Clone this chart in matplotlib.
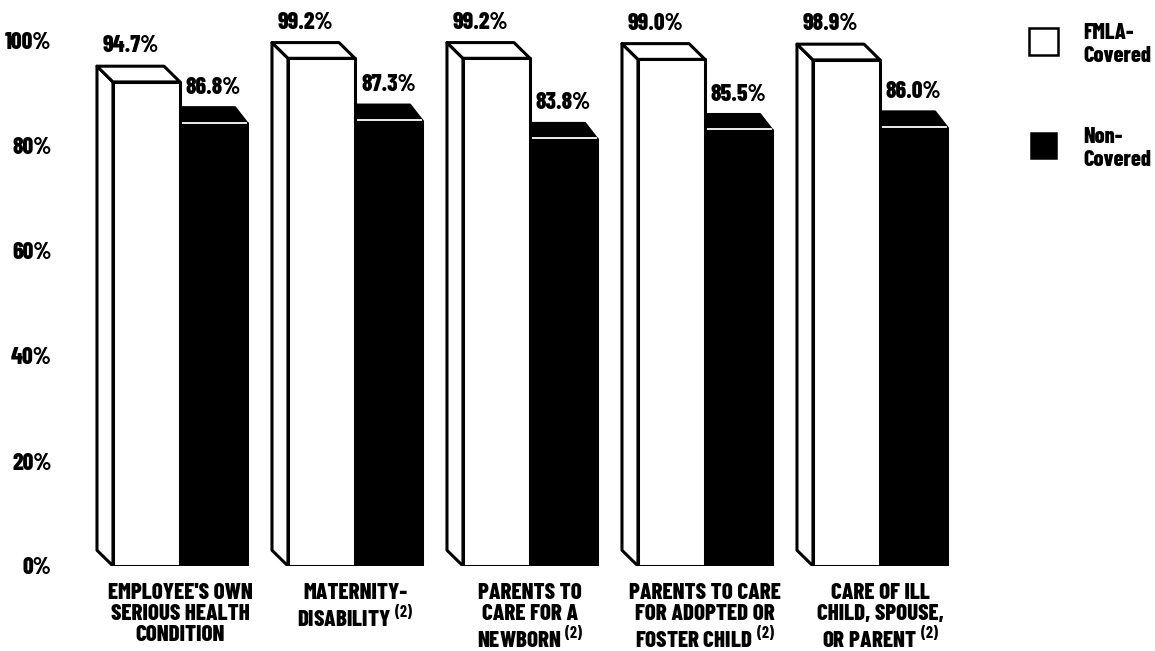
import matplotlib.pyplot as plt
from matplotlib import font_manager
from matplotlib.patches import Polygon, Rectangle

categories = ["EMPLOYEE'S OWN\nSERIOUS HEALTH\nCONDITION",
              "MATERNITY-\nDISABILITY $^{(2)}$",
              "PARENTS TO\nCARE FOR A\nNEWBORN $^{(2)}$",
              "PARENTS TO CARE\nFOR ADOPTED OR\nFOSTER CHILD $^{(2)}$",
              "CARE OF ILL\nCHILD, SPOUSE,\nOR PARENT $^{(2)}$"]
fmla_covered = [94.7, 99.2, 99.2, 99.0, 98.9]
non_covered = [86.8, 87.3, 83.8, 85.5, 86.0]
y_ticks = [0, 20, 40, 60, 80, 100]
series_names = ["FMLA-\nCovered", "Non-\nCovered"]

# condensed bold face, first one that is installed
wanted = ['Barlow Condensed', 'Roboto Condensed', 'Archivo Narrow', 'PT Sans Narrow',
          'Liberation Sans Narrow', 'DejaVu Sans']
have = {f.name for f in font_manager.fontManager.ttflist}
font = next(f for f in wanted if f in have)

plt.rcParams['font.family'] = [font, 'DejaVu Sans']
plt.rcParams['font.weight'] = 'heavy'
plt.rcParams['mathtext.fontset'] = 'custom'
plt.rcParams['mathtext.rm'] = font + ':bold'
plt.rcParams['mathtext.bf'] = font + ':bold'

W = 0.383      # bar width (group units)
DEPTH_Y = 3.0  # 3d depth, in %
SHIFT = 2.5    # front face sits below the value read at the back wall
LW = 2.2


def bar3d(ax, x0, v, color, dx, z):
    t = v - SHIFT
    front = [(x0, 0), (x0 + W, 0), (x0 + W, t), (x0, t)]
    top = [(x0, t), (x0 + W, t), (x0 + W + dx, t + DEPTH_Y), (x0 + dx, t + DEPTH_Y)]
    side = [(x0, 0), (x0, t), (x0 + dx, t + DEPTH_Y), (x0 + dx, DEPTH_Y)]
    for pts in (side, top, front):
        ax.add_patch(Polygon(pts, closed=True, facecolor=color, edgecolor='black',
                             lw=LW, joinstyle='round', zorder=z))
    return t


fig = plt.figure(figsize=(11.55, 6.51), dpi=100)
ax = fig.add_axes([60 / 1155, 85 / 651, 900 / 1155, 551.25 / 651])

for i in range(len(categories)):
    # black (non-covered) bar sits behind the white one
    t = bar3d(ax, i, non_covered[i], 'black', -0.07, 2)
    ax.plot([i + 0.004, i + W - 0.004], [t + 0.15, t + 0.15], color='white', lw=1.3, zorder=2.5)
    bar3d(ax, i - W, fmla_covered[i], 'white', -0.0914, 3)

    ax.text(i - W / 2 - 0.0914, fmla_covered[i] + 4.3, f"{fmla_covered[i]:.1f}%",
            ha='center', va='center', fontsize=17, fontweight='heavy')
    ax.text(i + W / 2, non_covered[i] + 4.3, f"{non_covered[i]:.1f}%",
            ha='center', va='center', fontsize=17, fontweight='heavy')

ax.set_xlim(-120 / 175, 780 / 175)
ax.set_ylim(0, 105)
ax.set_yticks(y_ticks)
ax.set_yticklabels([f"{v}%" for v in y_ticks], fontsize=17, fontweight='heavy')
ax.set_xticks(range(len(categories)))
ax.set_xticklabels(categories, fontsize=16.5, fontweight='heavy', linespacing=1.07, va='top')
ax.tick_params(length=0)
ax.tick_params(axis='y', pad=6)
ax.tick_params(axis='x', pad=12)
for s in ax.spines.values():
    s.set_visible(False)

# legend, drawn by hand so the key boxes sit beside two-line labels
FW, FH = 1155, 651
keys = [('white', 1029, 28, 29, 27), ('black', 1031, 133, 25, 25)]
for (fc, kx, ky, kw, kh), name in zip(keys, series_names):
    fig.add_artist(Rectangle((kx / FW, 1 - (ky + kh) / FH), kw / FW, kh / FH,
                             transform=fig.transFigure, facecolor=fc, edgecolor='black', lw=1.8))
    fig.text(1083 / FW, 1 - (ky + kh / 2 + 3) / FH, name, ha='left', va='center',
             fontsize=16, fontweight='heavy', linespacing=1.2)

fig.savefig('out.png', dpi=100)
